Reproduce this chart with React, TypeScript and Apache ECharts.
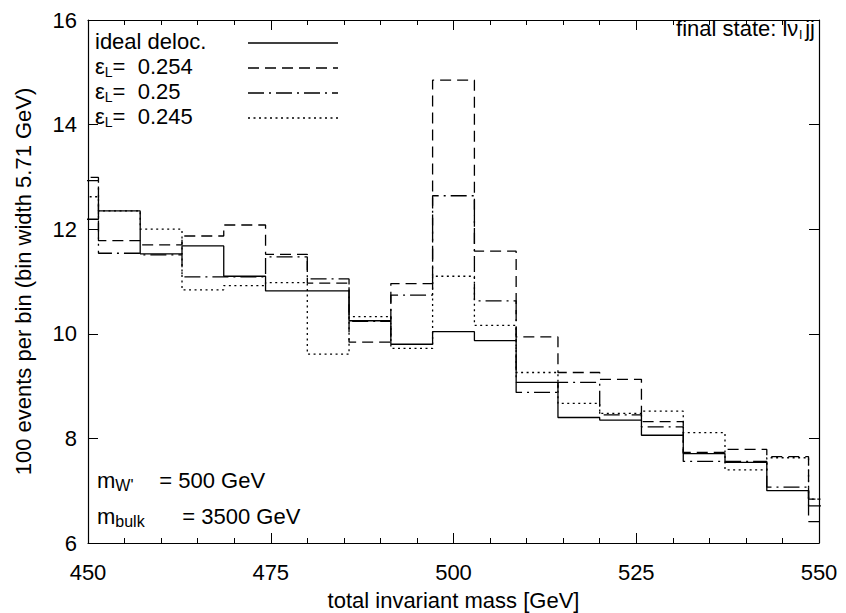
import React, { useEffect, useRef } from "react";
import * as echarts from "echarts";

// bin edges (bin width 5.71 GeV)
const binEdges = [445.71, 451.43, 457.14, 462.86, 468.57, 474.29, 480.0, 485.71, 491.43, 497.14, 502.86, 508.57, 514.29, 520.0, 525.71, 531.43, 537.14, 542.86, 548.57, 554.29];

const seriesNames = ["ideal deloc.", "εL=  0.254", "εL=  0.25", "εL=  0.245"];
const idealDeloc = [12.19, 12.35, 11.53, 11.68, 11.1, 10.82, 10.82, 10.25, 9.8, 10.04, 9.87, 9.07, 8.4, 8.35, 8.06, 7.71, 7.54, 7.0, 6.71];
const eps0254 = [12.99, 11.78, 11.7, 11.87, 12.08, 11.52, 10.97, 9.84, 10.96, 14.85, 11.58, 9.94, 9.26, 9.13, 8.32, 7.73, 7.79, 7.65, 6.41];
const eps025 = [12.93, 11.54, 11.51, 11.09, 11.09, 11.47, 11.05, 10.24, 10.74, 12.64, 10.63, 8.88, 9.07, 8.45, 8.22, 7.56, 7.56, 7.07, 6.84];
const eps0245 = [12.62, 12.35, 12.0, 10.84, 10.92, 10.98, 9.61, 10.33, 9.72, 11.1, 10.16, 9.26, 8.67, 8.48, 8.52, 8.11, 7.4, 7.63, 6.84];

const xTicks = [450, 475, 500, 525, 550];
const yTicks = [6, 8, 10, 12, 14, 16];

const FONT = "'Liberation Sans', Arial, Helvetica, sans-serif";
const DASHES: any[] = ["solid", [11, 6], [16, 5, 2, 5], [2, 3.5]];

export default function App() {
  const ref = useRef<HTMLDivElement>(null);
  useEffect(() => {
    if (!ref.current) return;
    const chart = echarts.init(ref.current, undefined, { renderer: "svg" });
    const allVals = [idealDeloc, eps0254, eps025, eps0245];
    const series = allVals.map((vals, si) => ({
      name: seriesNames[si],
      type: "line",
      step: "end",
      symbol: "none",
      xAxisIndex: 0,
      yAxisIndex: 0,
      clip: true,
      lineStyle: { color: "#000", width: 1.3, type: DASHES[si] },
      itemStyle: { color: "#000" },
      data: binEdges.map((x, i) => [x, vals[Math.min(i, vals.length - 1)]]),
    }));

    const axisCommon = {
      type: "value",
      axisLine: { show: true, onZero: false, lineStyle: { color: "#000", width: 1.2 } },
      splitLine: { show: false },
      minorSplitLine: { show: false },
    };

    const richMain = { fontSize: 22, fontFamily: FONT, fill: "#000", lineHeight: 26 };

    // legend drawn as graphic texts + sample lines
    const legendGraphics: any[] = [];
    seriesNames.forEach((name, i) => {
      const cy = 35 + i * 25;
      const text = name.startsWith("εL")
        ? "{a|ε}{s|L}{a|" + name.slice(2) + "}"
        : "{a|" + name + "}";
      legendGraphics.push({
        type: "text",
        left: 87,
        top: cy - 13,
        style: {
          text,
          fill: "#000",
          rich: {
            a: richMain,
            s: { fontSize: 14, fontFamily: FONT, fill: "#000", verticalAlign: "bottom", lineHeight: 16 },
          },
        },
      });
      legendGraphics.push({
        type: "line",
        shape: { x1: 240, y1: cy, x2: 330, y2: cy },
        style: {
          stroke: "#000",
          lineWidth: 1.3,
          lineDash: DASHES[i] === "solid" ? null : DASHES[i],
        },
      });
    });

    chart.setOption({
      animation: false,
      backgroundColor: "#fff",
      textStyle: { fontFamily: FONT },
      grid: { left: 80, right: 27, top: 12, bottom: 70, containLabel: false, outerBoundsMode: "none" },
      xAxis: [
        {
          ...axisCommon,
          position: "bottom",
          min: xTicks[0],
          max: xTicks[xTicks.length - 1],
          interval: 25,
          axisTick: { show: true, inside: true, length: 10, lineStyle: { color: "#000" } },
          minorTick: { show: true, splitNumber: 5, length: 5, lineStyle: { color: "#000" } },
          axisLabel: { fontSize: 22, color: "#000", margin: 18, fontFamily: FONT },
          name: "total invariant mass [GeV]",
          nameLocation: "middle",
          nameGap: 46,
          nameTextStyle: { fontSize: 22, color: "#000", fontFamily: FONT },
        },
        {
          ...axisCommon,
          position: "top",
          min: xTicks[0],
          max: xTicks[xTicks.length - 1],
          interval: 25,
          axisTick: { show: true, inside: true, length: 10, lineStyle: { color: "#000" } },
          minorTick: { show: true, splitNumber: 5, length: 5, lineStyle: { color: "#000" } },
          axisLabel: { show: false },
        },
      ],
      yAxis: [
        {
          ...axisCommon,
          position: "left",
          min: yTicks[0],
          max: yTicks[yTicks.length - 1],
          interval: 2,
          axisTick: { show: true, inside: true, length: 10, lineStyle: { color: "#000" } },
          axisLabel: { fontSize: 22, color: "#000", margin: 11, fontFamily: FONT },
          name: "100 events per bin (bin width 5.71 GeV)",
          nameLocation: "middle",
          nameRotate: 90,
          nameGap: 54,
          nameTextStyle: { fontSize: 22, color: "#000", fontFamily: FONT },
        },
        {
          ...axisCommon,
          position: "right",
          min: yTicks[0],
          max: yTicks[yTicks.length - 1],
          interval: 2,
          axisTick: { show: true, inside: true, length: 10, lineStyle: { color: "#000" } },
          axisLabel: { show: false },
        },
      ],
      graphic: [
        ...legendGraphics,
        {
          type: "text",
          right: 31,
          top: 9,
          style: {
            text: "{a|final state: lν}{s|l}{a|jj}",
            fill: "#000",
            rich: {
              a: richMain,
              s: { fontSize: 13, fontFamily: FONT, fill: "#000", verticalAlign: "bottom", lineHeight: 16, padding: [0, 3, 0, 1] },
            },
          },
        },
        {
          type: "text",
          left: 89,
          top: 461,
          style: {
            text: "{a|m}{s|W'}{a|= 500 GeV}",
            fill: "#000",
            rich: {
              a: richMain,
              s: { fontSize: 16, fontFamily: FONT, fill: "#000", verticalAlign: "bottom", lineHeight: 18, width: 44 },
            },
          },
        },
        {
          type: "text",
          left: 89,
          top: 497,
          style: {
            text: "{a|m}{s|bulk}{a|= 3500 GeV}",
            fill: "#000",
            rich: {
              a: richMain,
              s: { fontSize: 16, fontFamily: FONT, fill: "#000", verticalAlign: "bottom", lineHeight: 18, width: 67 },
            },
          },
        },
      ],
      series,
    });
    return () => chart.dispose();
  }, []);
  return <div ref={ref} style={{ width: 838, height: 605 }} />;
}
